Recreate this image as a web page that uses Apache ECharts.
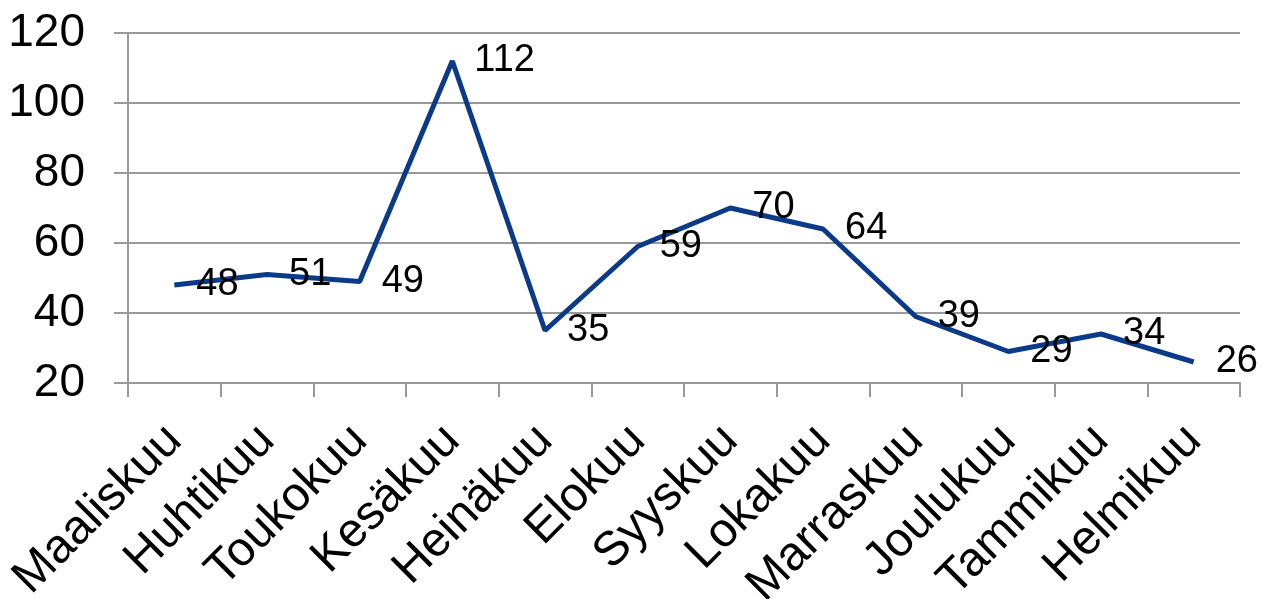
<!DOCTYPE html>
<html>
<head>
<meta charset="utf-8">
<script src="https://cdn.jsdelivr.net/npm/echarts@6/dist/echarts.min.js"></script>
<style>
    html, body { margin: 0; padding: 0; background: #fff; }
    #chart { width: 1263px; height: 599px; }
</style>
</head>
<body>
<div id="chart"></div>
<script>
// kuukaudet ja arvot
const months = ['Maaliskuu', 'Huhtikuu', 'Toukokuu', 'Kesäkuu', 'Heinäkuu', 'Elokuu',
    'Syyskuu', 'Lokakuu', 'Marraskuu', 'Joulukuu', 'Tammikuu', 'Helmikuu']
const values = [48, 51, 49, 112, 35, 59, 70, 64, 39, 29, 34, 26]
const yTicks = [20, 40, 60, 80, 100, 120]

const font = 'Liberation Sans, Arial, sans-serif'
const gray = '#999999'

let chart = echarts.init(document.getElementById('chart'))

let options = {
    animation: false,
    grid: { left: 128, right: 23, top: 33, bottom: 216, containLabel: false, outerBoundsMode: 'none' },
    xAxis: {
        type: 'category',
        data: months,
        boundaryGap: true,
        axisLine: { lineStyle: { color: gray, width: 2 } },
        axisTick: { show: true, length: 14, lineStyle: { color: gray, width: 2 } },
        axisLabel: {
            rotate: 45,
            interval: 0,
            margin: 50,
            fontSize: 48,
            color: '#000',
            fontFamily: font
        }
    },
    yAxis: {
        type: 'value',
        min: yTicks[0],
        max: yTicks[yTicks.length - 1],
        interval: 20,
        axisLine: { show: true, lineStyle: { color: gray, width: 2 } },
        axisTick: { show: true, length: 14, lineStyle: { color: gray, width: 2 } },
        splitLine: { lineStyle: { color: gray, width: 2 } },
        axisLabel: {
            margin: 43,
            fontSize: 46,
            color: '#000',
            fontFamily: font
        }
    },
    series: [{
        type: 'line',
        data: values,
        symbol: 'circle',
        symbolSize: 0,
        showSymbol: true,
        lineStyle: { color: '#0b3a88', width: 5 },
        itemStyle: { color: '#0b3a88' },
        labelLayout: { hideOverlap: false },
        label: {
            show: true,
            position: 'right',
            distance: 22,
            offset: [2, 6],
            fontSize: 38,
            color: '#000',
            fontFamily: font
        }
    }]
}

chart.setOption(options)
</script>
</body>
</html>
